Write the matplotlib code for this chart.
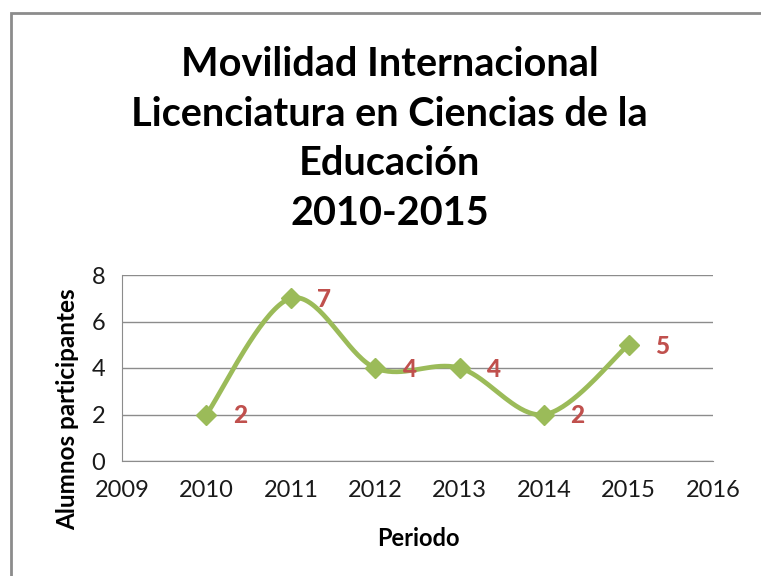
import numpy as np
import matplotlib.pyplot as plt
from matplotlib.patches import Rectangle

# ==========================
# DATA
# ==========================

years = [2010, 2011, 2012, 2013, 2014, 2015]
students = [2, 7, 4, 4, 2, 5]

title = "Movilidad Internacional\nLicenciatura en Ciencias de la\nEducación\n2010-2015"

green = "#9BBB59"
red = "#C0504D"

plt.rcParams["font.family"] = ["Lato", "DejaVu Sans"]


def smooth(xs, ys, n=40):
    # bezier smoothing like office charts (catmull-rom, tension 1/6)
    xs = np.asarray(xs, float)
    ys = np.asarray(ys, float)
    px = np.concatenate([[xs[0]], xs, [xs[-1]]])
    py = np.concatenate([[ys[0]], ys, [ys[-1]]])
    out_x, out_y = [], []
    t = np.linspace(0, 1, n)
    for i in range(1, len(px) - 2):
        x0, x1, x2, x3 = px[i - 1], px[i], px[i + 1], px[i + 2]
        y0, y1, y2, y3 = py[i - 1], py[i], py[i + 1], py[i + 2]
        c1x, c1y = x1 + (x2 - x0) / 6, y1 + (y2 - y0) / 6
        c2x, c2y = x2 - (x3 - x1) / 6, y2 - (y3 - y1) / 6
        bx = (1 - t) ** 3 * x1 + 3 * (1 - t) ** 2 * t * c1x + 3 * (1 - t) * t ** 2 * c2x + t ** 3 * x2
        by = (1 - t) ** 3 * y1 + 3 * (1 - t) ** 2 * t * c1y + 3 * (1 - t) * t ** 2 * c2y + t ** 3 * y2
        out_x.extend(bx)
        out_y.extend(by)
    return np.array(out_x), np.array(out_y)


# ==========================
# FIGURE
# ==========================

fig = plt.figure(figsize=(7.61, 5.76), dpi=100)
fig.patches.append(Rectangle((10.5 / 761, -0.1), 1.2, 1 - 13 / 576 + 0.1,
                             transform=fig.transFigure, fill=False,
                             edgecolor="#8c8c8c", linewidth=2))

ax = fig.add_axes([122 / 761, 1 - 461 / 576, (713 - 122) / 761, (461 - 275) / 576])

sx, sy = smooth(years, students)
ax.plot(sx, sy, color=green, linewidth=3.4, solid_capstyle="round", zorder=3)
ax.plot(years, students, linestyle="none", marker="D", markersize=10.5,
        color=green, zorder=4)

for x, y in zip(years, students):
    ax.annotate(str(y), (x, y), xytext=(24, -1), textcoords="offset points",
                ha="center", va="center", color=red, fontsize=17.5,
                fontweight="black", zorder=5)

ax.set_xlim(2009, 2016)
ax.set_ylim(0, 8)
ax.set_xticks(range(2009, 2017))
ax.set_yticks(range(0, 9, 2))
ax.grid(axis="y", color="#8c8c8c", linewidth=1)
ax.set_axisbelow(True)

for side in ["top", "right"]:
    ax.spines[side].set_visible(False)
for side in ["left", "bottom"]:
    ax.spines[side].set_color("#8c8c8c")

ax.tick_params(length=0, labelsize=17, colors="#1a1a1a", pad=14)
ax.tick_params(axis="y", pad=12)

ax.set_xlabel("Periodo", fontsize=17, fontweight="bold")
ax.set_ylabel("Alumnos participantes", fontsize=17.5, fontweight="bold")
ax.xaxis.set_label_coords((418 - 122) / 591, (461 - 527) / 186)
ax.yaxis.set_label_coords((79 - 122) / 591, (461 - 409) / 186)

fig.text(0.512, 1 - 139 / 576, title, ha="center", va="center",
         fontsize=28.5, fontweight="bold", linespacing=1.42)

plt.savefig("out.png", dpi=100)
